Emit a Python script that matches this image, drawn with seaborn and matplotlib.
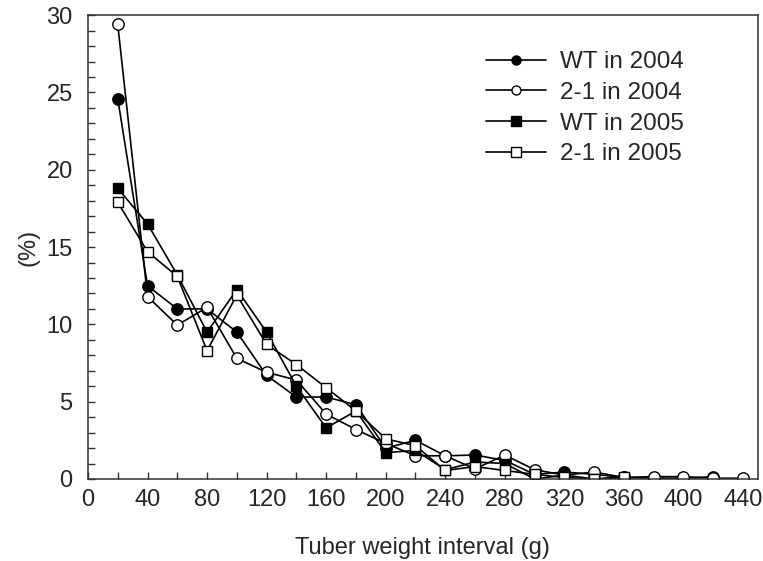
import numpy as np
import pandas as pd
import seaborn as sns
import matplotlib.pyplot as plt
from matplotlib.lines import Line2D
from matplotlib.ticker import MultipleLocator

# data
weight = [20, 40, 60, 80, 100, 120, 140, 160, 180, 200, 220,
          240, 260, 280, 300, 320, 340, 360, 380, 400, 420, 440]
wt_2004 = [24.6, 12.5, 11.0, 11.0, 9.5, 6.7, 5.3, 5.3, 4.8, 2.0, 2.5,
           1.5, 1.55, 1.2, 0.3, 0.45, 0.3, 0.1, 0.05, 0.05, 0.15, np.nan]
l21_2004 = [29.4, 11.8, 9.95, 11.1, 7.8, 6.9, 6.4, 4.2, 3.2, 2.3, 1.5,
            1.5, 0.65, 1.55, 0.6, 0.25, 0.45, 0.1, 0.15, 0.15, 0.05, 0.05]
wt_2005 = [18.8, 16.5, 13.2, 9.5, 12.25, 9.5, 6.0, 3.3, 4.4, 1.7, 1.85,
           0.6, 1.1, 1.0, 0.0, 0.25, 0.0, 0.05, np.nan, np.nan, np.nan, np.nan]
l21_2005 = [17.9, 14.7, 13.1, 8.3, 11.9, 8.7, 7.4, 5.9, 4.4, 2.6, 2.15,
            0.55, 0.8, 0.55, 0.3, 0.1, 0.0, 0.15, np.nan, np.nan, np.nan, np.nan]

labels = ["WT in 2004", "2-1 in 2004", "WT in 2005", "2-1 in 2005"]
series = [wt_2004, l21_2004, wt_2005, l21_2005]
markers = ["o", "o", "s", "s"]
faces = ["black", "white", "black", "white"]

sns.set_style("ticks")
plt.rcParams['font.family'] = ['Liberation Sans', 'DejaVu Sans']

fig = plt.figure(figsize=(7.63, 5.61), dpi=100)
ax = fig.add_axes([0.1153, 0.1462, 0.878, 0.8268])

for lab, vals, m, fc in zip(labels, series, markers, faces):
    df = pd.DataFrame({"x": weight, "y": vals}).dropna()
    sns.lineplot(data=df, x="x", y="y", ax=ax, color="black", lw=1.2,
                 marker=m, markersize=8.2 if m == "o" else 7.6,
                 markerfacecolor=fc, markeredgecolor="black",
                 markeredgewidth=1.0, legend=False)

ax.set_xlim(0, 450)
ax.set_ylim(0, 30)
ax.set_xticks(range(0, 441, 40))
ax.xaxis.set_minor_locator(MultipleLocator(20))
ax.set_yticks(range(0, 31, 5))
ax.yaxis.set_minor_locator(MultipleLocator(1))
ax.tick_params(which="both", direction="in", labelsize=17, width=1,
               length=5, color="#333333")
ax.tick_params(axis="x", which="major", pad=7)
ax.tick_params(axis="y", which="major", pad=11)
for s in ax.spines.values():
    s.set_linewidth(1.1)
    s.set_color("#333333")

ax.set_xlabel("Tuber weight interval (g)", fontsize=17, labelpad=19)
ax.set_ylabel("(%)", fontsize=17, labelpad=5)

handles = [Line2D([], [], color="black", lw=1.2, marker=m, markersize=6.5,
                  markerfacecolor=fc, markeredgecolor="black", markeredgewidth=1.0)
           for m, fc in zip(markers, faces)]
ax.legend(handles, labels, loc="upper left",
          bbox_to_anchor=(486 / 763, 1 - 51 / 561), bbox_transform=fig.transFigure,
          frameon=False, fontsize=17.5, handlelength=2.45, handletextpad=0.6,
          labelspacing=0.36, borderpad=0, borderaxespad=0)

fig.savefig("out.png", dpi=100)
